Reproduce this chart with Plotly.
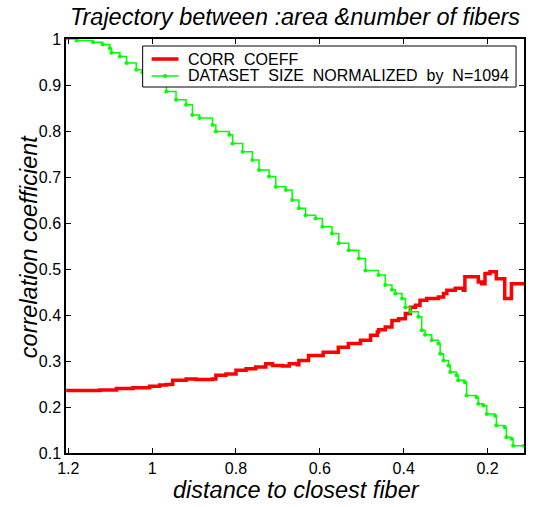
import plotly.graph_objects as go

# ---- data ----
green_x = [1.208, 1.180, 1.141, 1.118, 1.101, 1.097, 1.077, 1.061, 1.038, 1.023,
           0.983, 0.966, 0.943, 0.919, 0.904, 0.887, 0.856, 0.848, 0.816, 0.808,
           0.784, 0.761, 0.745, 0.721, 0.705, 0.681, 0.666, 0.650, 0.634, 0.610,
           0.594, 0.571, 0.555, 0.531, 0.507, 0.491, 0.460, 0.444, 0.428, 0.420,
           0.404, 0.396, 0.384, 0.365, 0.357, 0.349, 0.333, 0.317, 0.313, 0.305,
           0.293, 0.289, 0.274, 0.270, 0.254, 0.250, 0.226, 0.222, 0.210, 0.202,
           0.182, 0.179, 0.159, 0.155, 0.143, 0.139, 0.113]
green_y = [1.000, 0.997, 0.993, 0.988, 0.980, 0.970, 0.962, 0.948, 0.933, 0.927,
           0.905, 0.886, 0.868, 0.857, 0.835, 0.828, 0.813, 0.799, 0.792, 0.773,
           0.755, 0.737, 0.715, 0.701, 0.679, 0.672, 0.650, 0.632, 0.617, 0.610,
           0.592, 0.577, 0.556, 0.541, 0.523, 0.497, 0.487, 0.465, 0.455, 0.447,
           0.436, 0.417, 0.407, 0.396, 0.367, 0.357, 0.345, 0.338, 0.316, 0.301,
           0.290, 0.276, 0.269, 0.258, 0.254, 0.225, 0.221, 0.207, 0.203, 0.185,
           0.181, 0.160, 0.156, 0.134, 0.131, 0.116, 0.116]

red_x = [1.205, 1.125, 1.085, 1.046, 1.006, 0.982, 0.966, 0.951, 0.919, 0.895,
         0.856, 0.848, 0.824, 0.800, 0.776, 0.753, 0.729, 0.713, 0.689, 0.673,
         0.654, 0.650, 0.627, 0.592, 0.556, 0.532, 0.503, 0.479, 0.463, 0.460,
         0.444, 0.428, 0.412, 0.396, 0.384, 0.372, 0.361, 0.345, 0.325, 0.317,
         0.305, 0.297, 0.277, 0.258, 0.254, 0.230, 0.222, 0.214, 0.206, 0.194,
         0.179, 0.159, 0.143, 0.143, 0.113]
red_y = [0.236, 0.237, 0.240, 0.242, 0.245, 0.248, 0.249, 0.258, 0.261, 0.260,
         0.261, 0.269, 0.272, 0.280, 0.283, 0.287, 0.294, 0.290, 0.289, 0.294,
         0.292, 0.301, 0.312, 0.319, 0.330, 0.338, 0.345, 0.356, 0.363, 0.368,
         0.374, 0.388, 0.392, 0.403, 0.417, 0.421, 0.432, 0.436, 0.436, 0.439,
         0.447, 0.454, 0.458, 0.454, 0.483, 0.483, 0.472, 0.468, 0.490, 0.494,
         0.479, 0.436, 0.439, 0.468, 0.468]

x_ticks = [1.2, 1.0, 0.8, 0.6, 0.4, 0.2]
x_tick_labels = ["1.2", "1", "0.8", "0.6", "0.4", "0.2"]
y_ticks = [0.1, 0.2, 0.3, 0.4, 0.5, 0.6, 0.7, 0.8, 0.9, 1.0]
y_tick_labels = ["0.1", "0.2", "0.3", "0.4", "0.5", "0.6", "0.7", "0.8", "0.9", "1"]

NB = "\u00a0"
red_name = "CORR" + NB + NB + "COEFF"
green_name = ("DATASET" + NB + NB + "SIZE" + NB + NB + "NORMALIZED" + NB + NB +
              "by" + NB + NB + "N=1094")

FONT = "Arial, Liberation Sans, Helvetica, sans-serif"
RED, GREEN = "#ff0000", "#00ff00"

fig = go.Figure()
fig.add_trace(go.Scatter(
    x=red_x, y=red_y, mode="lines", line_shape="hv",
    line=dict(color=RED, width=3.5), name=red_name, showlegend=False))
fig.add_trace(go.Scatter(
    x=green_x, y=green_y, mode="lines+markers", line_shape="hv",
    line=dict(color=GREEN, width=1.5),
    marker=dict(color=GREEN, size=4), name=green_name, showlegend=False))

L, R, T, B = 66, 11, 39, 54
W, H = 537, 507
pw, ph = W - L - R, H - T - B


def px(x):
    return (x - L) / pw


def py(y):
    return (H - B - y) / ph


axis_common = dict(showline=True, linecolor="black", linewidth=1.5, mirror="ticks",
                   ticks="inside", ticklen=5, tickcolor="black", tickwidth=1,
                   showgrid=False, zeroline=False,
                   tickfont=dict(family=FONT, size=16, color="black"))

fig.update_xaxes(range=[1.2055, 0.113], tickvals=x_ticks, ticktext=x_tick_labels,
                 **axis_common)
fig.update_yaxes(range=[0.1, 1.0], tickvals=y_ticks, ticktext=y_tick_labels,
                 **axis_common)

# legend box drawn like the MATLAB one
shapes = [
    dict(type="rect", xref="paper", yref="paper", layer="above",
         x0=px(143), x1=px(518), y0=py(87), y1=py(46),
         fillcolor="white", line=dict(color="black", width=1)),
    dict(type="line", xref="paper", yref="paper", layer="above",
         x0=px(152), x1=px(179), y0=py(59), y1=py(59),
         line=dict(color=RED, width=3.5)),
    dict(type="line", xref="paper", yref="paper", layer="above",
         x0=px(152), x1=px(179), y0=py(76), y1=py(76),
         line=dict(color=GREEN, width=1.5)),
    dict(type="circle", xref="paper", yref="paper", layer="above",
         x0=px(163.5), x1=px(167.5), y0=py(78), y1=py(74),
         fillcolor=GREEN, line=dict(color=GREEN, width=0)),
]

fig.update_layout(
    width=W, height=H,
    margin=dict(l=L, r=R, t=T, b=B),
    plot_bgcolor="white", paper_bgcolor="white",
    font=dict(family=FONT, color="black"),
    showlegend=False,
    title=dict(text="<i>Trajectory between :area &amp;number of fibers</i>",
               xref="paper", x=0.5, xanchor="center",
               yref="container", y=1 - 17 / H, yanchor="middle",
               font=dict(family=FONT, size=23.5, color="black")),
    shapes=shapes,
    annotations=[
        dict(text=red_name, xref="paper", yref="paper", x=px(187), y=py(59),
             xanchor="left", yanchor="middle", showarrow=False,
             font=dict(family=FONT, size=16, color="black")),
        dict(text=green_name, xref="paper", yref="paper", x=px(187), y=py(76),
             xanchor="left", yanchor="middle", showarrow=False,
             font=dict(family=FONT, size=16, color="black")),
        dict(text="<i>distance to closest fiber</i>", xref="paper", yref="paper",
             x=px(298), y=py(490), xanchor="center", yanchor="middle",
             showarrow=False, font=dict(family=FONT, size=23.5, color="black")),
        dict(text="<i>correlation coefficient</i>", xref="paper", yref="paper",
             x=px(29), y=0.5, xanchor="center", yanchor="middle", textangle=-90,
             showarrow=False, font=dict(family=FONT, size=23.5, color="black")),
    ],
)

fig.write_html("out.html")
